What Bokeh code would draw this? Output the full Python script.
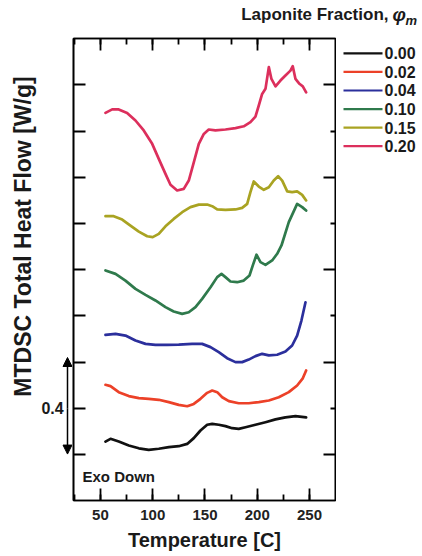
import numpy as np
from bokeh.plotting import figure
from bokeh.layouts import row, column
from bokeh.models import (Range1d, LinearAxis, FixedTicker, SingleIntervalTicker,
                          Label, Arrow, NormalHead, CustomJSTickFormatter)
from bokeh.core.properties import value
from bokeh.embed import file_html
from bokeh.resources import INLINE

# ---- data (y in W/g with arbitrary offsets) ----
fractions = ["0.00", "0.02", "0.04", "0.10", "0.15", "0.20"]
colors = ["#111111", "#ec4128", "#2b2f9c", "#2f7a4c", "#a9a322", "#dc2f5c"]

temp_000 = [54.8, 59.6, 67.5, 77.1, 86.7, 96.2, 105.8, 115.4, 124.9, 133.0, 139.3, 145.7, 152.1, 156.9,
            163.2, 169.6, 176.0, 182.3, 188.8, 198.3, 207.9, 217.5, 227.0, 236.6, 246.8]
hf_000 = [0.056, 0.068, 0.056, 0.039, 0.027, 0.020, 0.025, 0.032, 0.036, 0.046, 0.071, 0.104, 0.129, 0.133,
          0.129, 0.123, 0.114, 0.111, 0.118, 0.129, 0.140, 0.152, 0.161, 0.166, 0.161]

temp_002 = [54.8, 59.6, 67.5, 77.1, 86.7, 96.2, 105.8, 115.4, 124.9, 133.0, 139.3, 145.7, 152.1, 156.9,
            161.7, 166.5, 172.8, 182.3, 191.9, 201.5, 211.1, 220.6, 230.2, 238.2, 243.6, 246.8]
hf_002 = [0.302, 0.296, 0.270, 0.253, 0.244, 0.241, 0.237, 0.227, 0.215, 0.209, 0.219, 0.241, 0.267, 0.277,
          0.270, 0.248, 0.231, 0.222, 0.222, 0.227, 0.234, 0.248, 0.270, 0.299, 0.330, 0.364]

temp_004 = [54.8, 64.4, 73.9, 83.5, 93.1, 102.6, 113.8, 124.9, 137.7, 147.3, 155.3, 163.2, 171.2, 179.2,
            185.6, 191.9, 198.3, 204.7, 211.1, 219.1, 227.0, 233.4, 238.2, 242.3, 246.2]
hf_004 = [0.518, 0.522, 0.515, 0.494, 0.479, 0.475, 0.475, 0.476, 0.479, 0.479, 0.465, 0.443, 0.417, 0.400,
          0.400, 0.411, 0.426, 0.436, 0.429, 0.432, 0.446, 0.472, 0.515, 0.580, 0.659]

temp_010 = [54.8, 64.4, 73.9, 83.5, 93.1, 102.6, 112.2, 120.1, 128.2, 134.5, 140.9, 147.3, 155.3, 161.7,
            165.8, 169.6, 174.4, 180.8, 187.1, 192.6, 195.7, 199.3, 203.1, 207.9, 214.3, 219.1, 223.2,
            230.2, 238.2, 243.0, 246.8]
hf_010 = [0.797, 0.782, 0.753, 0.717, 0.691, 0.667, 0.638, 0.619, 0.609, 0.616, 0.638, 0.674, 0.724, 0.768,
          0.782, 0.768, 0.749, 0.746, 0.753, 0.775, 0.818, 0.865, 0.833, 0.821, 0.840, 0.869, 0.905,
          1.006, 1.085, 1.071, 1.056]

temp_015 = [54.8, 62.7, 70.8, 78.7, 86.7, 94.7, 100.0, 105.8, 112.2, 120.1, 128.2, 136.1, 144.1, 152.1,
            156.9, 161.7, 169.6, 179.2, 185.6, 190.4, 193.5, 196.7, 201.5, 206.3, 211.1, 215.8, 220.0,
            223.9, 228.7, 233.4, 238.2, 243.0, 246.8]
hf_015 = [1.032, 1.032, 1.017, 0.991, 0.965, 0.945, 0.941, 0.955, 0.988, 1.020, 1.049, 1.071, 1.082, 1.082,
          1.075, 1.061, 1.059, 1.061, 1.068, 1.085, 1.136, 1.182, 1.160, 1.146, 1.157, 1.186, 1.205,
          1.186, 1.139, 1.136, 1.139, 1.124, 1.100]

temp_020 = [54.8, 61.2, 67.5, 75.5, 83.5, 91.4, 99.5, 105.8, 112.2, 117.0, 123.4, 129.7, 134.5, 139.3,
            144.1, 148.9, 153.6, 160.0, 169.6, 179.2, 187.1, 193.5, 198.3, 201.5, 204.7, 207.9, 211.1,
            213.6, 217.5, 222.2, 227.0, 231.8, 234.0, 236.6, 240.4, 243.6, 246.8]
hf_020 = [1.479, 1.494, 1.494, 1.479, 1.446, 1.403, 1.345, 1.280, 1.215, 1.168, 1.143, 1.150, 1.186, 1.265,
          1.345, 1.388, 1.407, 1.403, 1.407, 1.413, 1.421, 1.439, 1.463, 1.511, 1.561, 1.583, 1.677,
          1.626, 1.594, 1.619, 1.641, 1.662, 1.681, 1.626, 1.605, 1.594, 1.568]

series_t = [temp_000, temp_002, temp_004, temp_010, temp_015, temp_020]
series_h = [hf_000, hf_002, hf_004, hf_010, hf_015, hf_020]

x_major = 50
y_left_ticks = [0.0, 0.2, 0.4, 0.6, 0.8, 1.0, 1.2, 1.4, 1.6]
y_right_major = [0.0, 0.4, 0.8, 1.2, 1.6]
y_right_minor = [0.2, 0.6, 1.0, 1.4]
scale_bar = 0.4

FONT = "Liberation Sans"
TXT = "#1a1a1a"

# page layout (pixels)
W, H = 422, 556
TOP_H = 30          # strip holding the legend title
LEFT_W = 72         # strip holding y title and scale bar
MAIN_W = 264        # main plot (frame 73..335)
RIGHT_W = W - LEFT_W - MAIN_W
BODY_H = H - TOP_H
FRAME_TOP_PAD = 38 - TOP_H
FRAME_BOTTOM_PAD = 56

yr = Range1d(-0.199, 1.801)

p = figure(width=MAIN_W, height=BODY_H, output_backend="svg", toolbar_location=None,
           x_range=Range1d(24.2, 274.9), y_range=yr,
           min_border_left=1, min_border_right=1, min_border_top=FRAME_TOP_PAD,
           min_border_bottom=FRAME_BOTTOM_PAD)
p.xgrid.visible = False
p.ygrid.visible = False
p.outline_line_color = "black"
p.outline_line_width = 1.6

blank = CustomJSTickFormatter(code="return ''")

# bottom axis
xa = p.xaxis[0]
xa.ticker = SingleIntervalTicker(interval=x_major, num_minor_ticks=2)
xa.major_tick_in = 12
xa.major_tick_out = 0
xa.minor_tick_in = 6
xa.minor_tick_out = 0
xa.major_tick_line_width = 1.8
xa.minor_tick_line_width = 1.8
xa.axis_line_width = 1.6
xa.major_label_text_font = FONT
xa.major_label_text_font_style = "bold"
xa.major_label_text_font_size = "15px"
xa.major_label_text_color = "#222222"
xa.major_label_standoff = 9
xa.axis_label = "Temperature [C]"
xa.axis_label_text_font = FONT
xa.axis_label_text_font_style = "bold"
xa.axis_label_text_font_size = "20px"
xa.axis_label_text_color = TXT
xa.axis_label_standoff = 6

# top axis
top = LinearAxis(ticker=SingleIntervalTicker(interval=x_major, num_minor_ticks=2), formatter=blank,
                 major_tick_in=12, major_tick_out=0, minor_tick_in=6, minor_tick_out=0,
                 major_tick_line_width=1.8, minor_tick_line_width=1.8, axis_line_width=1.6,
                 major_label_text_font_size="1px", major_label_standoff=0)
p.add_layout(top, "above")

# left axis
ya = p.yaxis[0]
ya.ticker = FixedTicker(ticks=y_left_ticks)
ya.formatter = blank
ya.major_tick_in = 12
ya.major_tick_out = 0
ya.minor_tick_in = 0
ya.minor_tick_out = 0
ya.major_tick_line_width = 1.8
ya.axis_line_width = 1.6
ya.major_label_text_font_size = "1px"
ya.major_label_standoff = 0

# right axis
ra = LinearAxis(ticker=FixedTicker(ticks=y_right_major, minor_ticks=y_right_minor), formatter=blank,
                major_tick_in=12, major_tick_out=0, minor_tick_in=5, minor_tick_out=0,
                major_tick_line_width=1.8, minor_tick_line_width=1.8, axis_line_width=1.6,
                major_label_text_font_size="1px", major_label_standoff=0)
p.add_layout(ra, "right")

for col, t, h in zip(colors, series_t, series_h):
    p.line(t, h, line_color=col, line_width=2.7, line_join="round", line_cap="round")


def px2x(px):
    return 50 + (px - 100) / 1.045


def py2y(py):
    return (454 - py) / 231.0


p.add_layout(Label(x=px2x(82), y=py2y(476), text="Exo Down", text_align="left", text_baseline="middle",
                   text_font=FONT, text_font_style="bold", text_font_size="15px", text_color=TXT))


def strip(width, height, xr, yrng, top_pad=0, bottom_pad=0):
    f = figure(width=width, height=height, output_backend="svg", toolbar_location=None,
               x_range=xr, y_range=yrng, x_axis_location=None, y_axis_location=None,
               min_border_left=0, min_border_right=0, min_border_top=top_pad, min_border_bottom=bottom_pad)
    f.xgrid.visible = False
    f.ygrid.visible = False
    f.outline_line_color = None
    return f


# ---- left strip: y-axis title and 0.4 W/g scale bar ----
q = strip(LEFT_W, BODY_H, Range1d(0, LEFT_W), yr, FRAME_TOP_PAD, FRAME_BOTTOM_PAD)
q.add_layout(Label(x=22, y=py2y(236), text="MTDSC Total Heat Flow [W/g]", angle=np.pi / 2,
                   text_align="center", text_baseline="middle", text_font=FONT,
                   text_font_style="bold", text_font_size="23px", text_color=TXT))
y_mid = y_left_ticks[1]
q.add_layout(Arrow(x_start=67, y_start=y_mid, x_end=67, y_end=y_mid + scale_bar / 2 + 0.02,
                   end=NormalHead(size=9, fill_color="black", line_color="black"),
                   line_width=1.5, line_color="black"))
q.add_layout(Arrow(x_start=67, y_start=y_mid, x_end=67, y_end=y_mid - scale_bar / 2 + 0.002,
                   end=NormalHead(size=9, fill_color="black", line_color="black"),
                   line_width=1.5, line_color="black"))
q.add_layout(Label(x=52, y=y_mid, text=f"{scale_bar:.1f}", text_align="center", text_baseline="middle",
                   text_font=FONT, text_font_style="bold", text_font_size="16px", text_color=TXT))

# ---- right strip: legend (page-pixel coordinates) ----
x0 = LEFT_W + MAIN_W
r = strip(RIGHT_W, BODY_H, Range1d(x0, W), Range1d(H, TOP_H))
row_y = [47 + 21.1 * i for i in range(len(fractions))]
r.segment(x0=[343] * len(fractions), x1=[382] * len(fractions), y0=row_y, y1=row_y,
          line_color=colors, line_width=2.2)
r.text(x=[384] * len(fractions), y=row_y, text=fractions, text_baseline="middle", text_align="left",
       text_font=value(FONT), text_font_style="bold", text_font_size="16px", text_color=TXT)

# ---- top strip: legend title ----
t = strip(W, TOP_H, Range1d(0, W), Range1d(TOP_H, 0))
t.add_layout(Label(x=388, y=14, text="Laponite Fraction,", text_align="right", text_baseline="middle",
                   text_font=FONT, text_font_style="bold", text_font_size="17px", text_color=TXT))
t.add_layout(Label(x=392, y=14, text="φ", text_align="left", text_baseline="middle",
                   text_font=FONT, text_font_style="bold italic", text_font_size="19px", text_color=TXT))
t.add_layout(Label(x=405, y=20, text="m", text_align="left", text_baseline="middle",
                   text_font=FONT, text_font_style="bold italic", text_font_size="13px", text_color=TXT))

layout = column(t, row(q, p, r, spacing=0), spacing=0)
open("out.html", "w").write(file_html(layout, INLINE))
